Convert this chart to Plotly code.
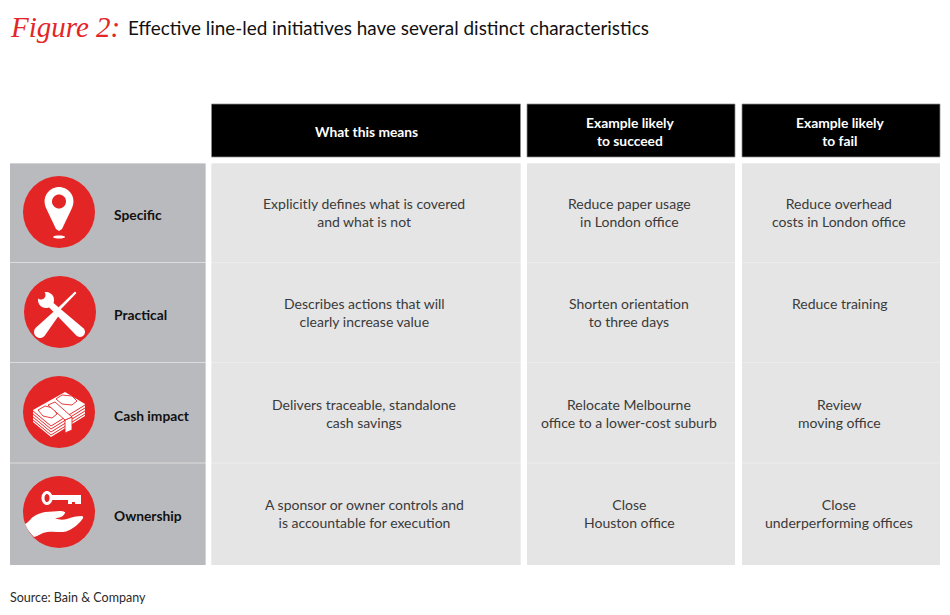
import numpy as np
import plotly.graph_objects as go

# table content
col_headers = ["What this means", "Example likely<br>to succeed", "Example likely<br>to fail"]
row_labels = ["Specific", "Practical", "Cash impact", "Ownership"]
what_this_means = [
    "Explicitly defines what is covered<br>and what is not",
    "Describes actions that will<br>clearly increase value",
    "Delivers traceable, standalone<br>cash savings",
    "A sponsor or owner controls and<br>is accountable for execution",
]
likely_to_succeed = [
    "Reduce paper usage<br>in London office",
    "Shorten orientation<br>to three days",
    "Relocate Melbourne<br>office to a lower-cost suburb",
    "Close<br>Houston office",
]
likely_to_fail = [
    "Reduce overhead<br>costs in London office",
    "Reduce training",
    "Review<br>moving office",
    "Close<br>underperforming offices",
]
title_script = "Figure 2:"
title_text = "Effective line-led initiatives have several distinct characteristics"
source_text = "Source: Bain & Company"

# layout in page pixels
col_x = [(211.5, 520.5), (527, 735), (742, 940)]
col_text_x = [364, 629, 839]
header_text_x = [366, 629.5, 839.5]
label_x = (10, 205.5)
row_y = [(163.5, 262), (263, 362), (363, 462.5), (463.5, 565)]
row_text_top = [194, 294, 395, 495]
icon_xy = [(59, 212), (60, 312), (59, 412), (59, 512)]
label_y = [214.5, 314.5, 415.5, 515.5]

RED = "#e42526"
FONT = "Lato"
INK = "#1a1a1a"


def poly(pts):
    return "M" + "L".join(f"{x:.1f},{y:.1f}" for x, y in pts) + "Z"


def at(cx, cy, pts):
    return poly([(cx + x, cy + y) for x, y in pts])


def capsule(p1, p2, r1, r2):
    # rounded bar between two points
    p1, p2 = np.array(p1, float), np.array(p2, float)
    a = np.arctan2(*(p2 - p1)[::-1])
    t1 = np.linspace(a + np.pi / 2, a + 3 * np.pi / 2, 10)
    t2 = np.linspace(a - np.pi / 2, a + np.pi / 2, 10)
    pts = [p1 + r1 * np.array([np.cos(t), np.sin(t)]) for t in t1]
    pts += [p2 + r2 * np.array([np.cos(t), np.sin(t)]) for t in t2]
    return poly(pts)


def ellipse(cx, cy, rx, ry):
    t = np.linspace(0, 2 * np.pi, 40)
    return poly(zip(cx + rx * np.cos(t), cy + ry * np.sin(t)))


fig = go.Figure()
shapes = []


def rect(x0, x1, y0, y1, fill, line=None):
    shapes.append(dict(type="rect", x0=x0, x1=x1, y0=y0, y1=y1, fillcolor=fill,
                       line=dict(color=line or fill, width=0.75 if line else 0), layer="below"))


def path(d, fill="white", outline=None):
    shapes.append(dict(type="path", path=d, fillcolor=fill, layer="above",
                       line=dict(color=outline or fill, width=0.9 if outline else 0)))


for x0, x1 in col_x:
    rect(x0, x1, 104, 157, "black", "#8f8f8f")
    # pale gaps between rows show through from this
    rect(x0, x1, row_y[0][0], row_y[-1][1], "#ececec")
rect(label_x[0], label_x[1], row_y[0][0], row_y[-1][1], "#dcdcde")
for y0, y1 in row_y:
    rect(label_x[0], label_x[1], y0, y1, "#b9babd")
    for x0, x1 in col_x:
        rect(x0, x1, y0, y1, "#e5e5e5")

for cx, cy in icon_xy:
    shapes.append(dict(type="circle", x0=cx - 36, x1=cx + 36, y0=cy - 36, y1=cy + 36,
                       fillcolor=RED, line=dict(width=0), layer="above"))

# pin icon
cx, cy = icon_xy[0]
path(f"M{cx},{cy+19} L{cx-3},{cy+17} L{cx-13},{cy-4} C{cx-18},{cy-16} {cx-9},{cy-25} {cx},{cy-25} "
     f"C{cx+9},{cy-25} {cx+18},{cy-16} {cx+13},{cy-4} L{cx+3},{cy+17} Z")
path(ellipse(cx, cy - 10.5, 7, 7), RED)
path(ellipse(cx, cy + 25, 6, 1.5))

# wrench and screwdriver icon
cx, cy = icon_xy[1]
path(capsule((cx - 10, cy - 8), (cx + 20, cy + 20), 3, 5))
path(ellipse(cx - 14, cy - 12, 8, 8))
path(ellipse(cx - 19, cy - 17, 4.5, 4.5), RED)
path(at(cx, cy, [(-23, -21), (-19, -26), (-17, -20), (-22, -16), (-28, -19)]), RED)
path(capsule((cx + 15, cy - 19), (cx, cy - 4), 1.2, 1.5))
path(capsule((cx - 5, cy + 3), (cx - 20, cy + 20), 3.5, 6))

# banknotes icon
cx, cy = icon_xy[2]
left, front, right = (-26, -2), (-8, 13), (26, -8)
depth = 12
path(at(cx, cy, [left, (6, -20), right, (26, -8 + depth), (-8, 13 + depth), (-26, -2 + depth)]))
for off in [0.5, 3.5, 6.5, 9.5]:
    path(at(cx, cy, [(-26, -2 + off), (-8, 13 + off), (26, -8 + off),
                     (26, -7 + off), (-8, 14 + off), (-26, -1 + off)]), RED)
path(at(cx, cy, [(-21, -2), (-14, -6), (-6, -4), (-2, 2), (-7, 6), (-16, 4)]), "white", RED)
path(at(cx, cy, [(-3, -13), (3, -17), (13, -16), (18, -11), (13, -7), (3, -8)]), "white", RED)
path(at(cx, cy, [(6, 8), (13, 5), (13, 18), (6, 21)]), "white", RED)
path(at(cx, cy, [(-11, -7), (-4, -10), (13, 5), (6, 8)]), "white", RED)

# key in hand icon
cx, cy = icon_xy[3]
path(ellipse(cx - 12, cy - 14, 5.5, 7))
path(ellipse(cx - 12, cy - 14, 2.5, 4), RED)
path(at(cx, cy, [(-7, -17), (22, -17), (22, -8), (16, -8), (16, -10), (13, -10), (13, -8), (9, -8), (9, -12), (-7, -12)]))
path(f"M{cx-34},{cy+12} C{cx-30},{cy+10} {cx-28},{cy+6} {cx-26},{cy+5} C{cx-22},{cy+2} {cx-18},{cy+1} {cx-14},{cy} "
     f"C{cx-8},{cy} {cx-4},{cy-1} {cx+1},{cy-1} C{cx+4},{cy-1} {cx+7},{cy} {cx+6},{cy+1} C{cx+5},{cy+4} {cx+1},{cy+6} {cx-4},{cy+6} "
     f"C{cx},{cy+8} {cx+4},{cy+8} {cx+8},{cy+7} C{cx+13},{cy+5} {cx+18},{cy+4} {cx+23},{cy+4} "
     f"C{cx+26},{cy+5} {cx+23},{cy+8} {cx+18},{cy+13} C{cx+13},{cy+17} {cx+8},{cy+20} {cx+4},{cy+20} "
     f"C{cx-3},{cy+20} {cx-11},{cy+19} {cx-16},{cy+21} L{cx-22},{cy+24} L{cx-25},{cy+25} C{cx-29},{cy+21} {cx-32},{cy+17} {cx-34},{cy+12} Z")

annotations = []


def add_text(x, y, text, size, color=INK, anchor="center", vanchor="top", weight=None, family=FONT, style=None):
    annotations.append(dict(x=x, y=y, text=text, showarrow=False, xanchor=anchor, yanchor=vanchor, align=anchor,
                            borderpad=0, font=dict(family=family, size=size, color=color,
                                                   weight=weight, style=style)))


add_text(8.5, 27, title_script, 29, RED, "left", "middle", family="Liberation Serif", style="italic")
add_text(127, 27, title_text, 18.9, "#111111", "left", "middle")
add_text(9, 597, source_text, 12.5, "#2a2a2a", "left", "middle")

for x, header in zip(header_text_x, col_headers):
    add_text(x, 131, header, 13.8, "white", vanchor="middle", weight=700)

for label, y in zip(row_labels, label_y):
    add_text(113, y, label, 13.8, "#111111", "left", "middle", weight=700)

for values, x in zip([what_this_means, likely_to_succeed, likely_to_fail], col_text_x):
    for text, top in zip(values, row_text_top):
        add_text(x, top, text, 14, "#3a3a3a")

fig.update_layout(
    width=950, height=615, margin=dict(l=0, r=0, t=0, b=0),
    paper_bgcolor="white", plot_bgcolor="white", showlegend=False,
    xaxis=dict(range=[0, 950], visible=False, fixedrange=True),
    yaxis=dict(range=[615, 0], visible=False, fixedrange=True),
    shapes=shapes, annotations=annotations,
)
# browser default body margin would push the page 8px in
fig.write_html("out.html", config=dict(displayModeBar=False),
               post_script="document.body.style.margin='0';document.documentElement.style.overflow='hidden';")
